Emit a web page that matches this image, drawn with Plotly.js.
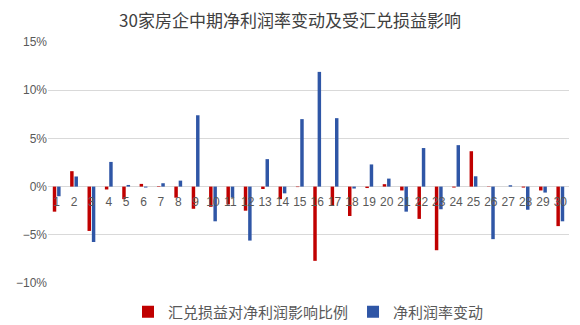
<!DOCTYPE html>
<html><head><meta charset="utf-8">
<script src="https://cdn.plot.ly/plotly-3.0.1.min.js"></script>
<style>html,body{margin:0;padding:0;background:#fff}#chart{width:580px;height:325px}</style>
</head><body><div id="chart"></div>
<script>
const categories = ['1','2','3','4','5','6','7','8','9','10','11','12','13','14','15','16','17','18','19','20','21','22','23','24','25','26','27','28','29','30'];
const fxImpact = [-2.6,1.6,-4.6,-0.3,-1.3,0.28,0.05,-1.15,-2.3,-2.1,-1.85,-2.5,-0.25,-1.3,-0.05,-7.7,-2.0,-3.05,-0.15,0.25,-0.4,-3.35,-6.6,-0.1,3.67,0.03,0,-0.1,-0.4,-4.1];
const marginChange = [-1.0,1.05,-5.75,2.56,0.17,-0.1,0.35,0.62,7.4,-3.6,-1.15,-5.6,2.85,-0.7,7.0,11.9,7.1,-0.2,2.3,0.83,-2.6,4.0,-2.35,4.3,1.07,-5.45,0.14,-2.4,-0.62,-3.6];
const seriesNames = ['汇兑损益对净利润影响比例','净利润率变动'];
const chartTitle = '30家房企中期净利润率变动及受汇兑损益影响';

const cjk = '"Noto Sans CJK SC", "Noto Sans", sans-serif';
const traces = [
  {type:'bar', name:seriesNames[0], x:categories, y:fxImpact, marker:{color:'#C00000'}},
  {type:'bar', name:seriesNames[1], x:categories, y:marginChange, marker:{color:'#2F56A6'}}
];
const layout = {
  width:580, height:325,
  margin:{l:48, r:11, t:42, b:42, autoexpand:false},
  paper_bgcolor:'#fff', plot_bgcolor:'#fff',
  title:{text:chartTitle, x:0.5, xanchor:'center', y:0.935, yanchor:'middle', font:{family:cjk, size:17, color:'#404040'}},
  barmode:'group', bargap:0.5, bargroupgap:0.2,
  showlegend:true,
  legend:{orientation:'h', x:0.5, xanchor:'center', y:-0.12, yanchor:'middle', font:{family:cjk, size:15, color:'#595959'}, itemwidth:30, traceorder:'normal'},
  xaxis:{type:'category', anchor:'free', position:0.4, showgrid:false, showline:false, zeroline:false,
    ticks:'outside', ticklen:4, tickcolor:'rgba(0,0,0,0)', tickfont:{family:'"Liberation Sans", Arial, sans-serif', size:12, color:'#595959'}, fixedrange:true},
  yaxis:{range:[-10,15], dtick:5, ticksuffix:'%', showgrid:true, gridcolor:'#d9d9d9', gridwidth:1,
    zeroline:true, zerolinecolor:'#d9d9d9', zerolinewidth:1, showline:false,
    tickfont:{family:'"Liberation Sans", Arial, sans-serif', size:12, color:'#595959'}, ticklen:0, ticks:''}
};
Plotly.newPlot('chart', traces, layout, {displayModeBar:false, staticPlot:true});
</script></body></html>
